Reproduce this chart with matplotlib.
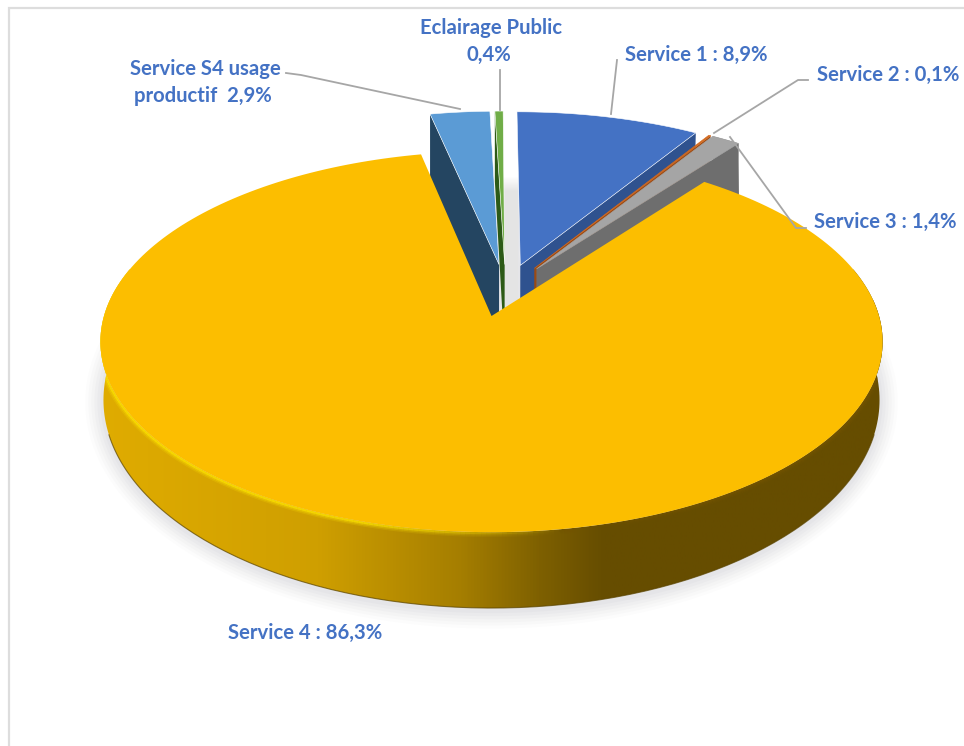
import numpy as np
import matplotlib
matplotlib.use('Agg')
import matplotlib.pyplot as plt
from matplotlib.collections import LineCollection
from matplotlib.colors import LinearSegmentedColormap
from matplotlib.patches import Polygon

# values, clockwise from 12 o'clock
services = ['Service 1', 'Service 2', 'Service 3', 'Service 4', 'Service S4 usage productif', 'Eclairage Public']
shares = [8.9, 0.1, 1.4, 86.3, 2.9, 0.4]
top_colors = ['#4472C4', '#D2691E', '#A5A5A5', '#FCBE00', '#5B9BD5', '#70AD47']
wall_colors = ['#2F528F', '#9C4A12', '#6E6E6E', '#A07800', '#244561', '#2C5A17']
labels = ['Service 1 : 8,9%', 'Service 2 : 0,1%', 'Service 3 : 1,4%', 'Service 4 : 86,3%',
          'Service S4 usage\nproductif  2,9%', 'Eclairage Public\n0,4%']

W, H = 964, 746
BLUE = '#4472C4'
LEADER = '#A6A6A6'
EXPLODE = 0.145
RADIUS = 1.0


# perspective of the top face and of the bottom face
def top_xy(u, v):
    s = 1 + 0.135 * v
    return 491.5 + 387.5 * u / s, 316 - 187 * v / s


def bottom_xy(u, v, extra=0):
    s = 1 + 0.125 * v
    return 491.5 + 385 * u / s, 374 + extra - 204.8 * v / s


def slice_uv(a0, a1, radius=RADIUS, n=60, nudge=0.0):
    mid = np.radians((a0 + a1) / 2)
    yellow_mid = np.radians(yellow_angle)
    cu = EXPLODE * (np.sin(mid) - np.sin(yellow_mid)) + nudge
    cv = EXPLODE * (np.cos(mid) - np.cos(yellow_mid))
    t = np.radians(np.linspace(a0, a1, n))
    return cu, cv, cu + radius * np.sin(t), cv + radius * np.cos(t)


ends = np.cumsum(shares) / np.sum(shares) * 360
starts = np.concatenate([[0], ends[:-1]])
yellow_angle = (starts[3] + ends[3]) / 2

fig = plt.figure(figsize=(W / 100, H / 100), dpi=100)
ax = fig.add_axes([0, 0, 1, 1])
ax.set_xlim(0, W)
ax.set_ylim(H, 0)
ax.axis('off')

# frame of the screenshot
ax.plot([9, 9, W], [H, 7.5, 7.5], color='#DDDDDD', lw=1.6, solid_joinstyle='miter', zorder=1)

# soft shadow round the bottom of the pie
_, _, ou, ov = slice_uv(starts[3], ends[3], n=200)
sx, sy = bottom_xy(ou, ov)
for grow, alpha in zip([18, 15, 12, 9, 6, 3], [0.06, 0.08, 0.09, 0.11, 0.13, 0.15]):
    px = 491.5 + (sx - 491.5) * (1 + grow / 385)
    py = 398 + (sy - 398) * (1 + grow / 205) + 2
    ax.fill(px, py, color='#CCCCD2', alpha=alpha, lw=0, zorder=2)

# grey shadow seen in the gap between the slices
gap = np.r_[np.linspace(0, 1, 16), np.ones(118)].reshape(-1, 1)
gap_cmap = LinearSegmentedColormap.from_list('gap', ['#FFFFFF', '#E4E4E4'])
ax.imshow(gap, extent=(503, 518, 310, 176), cmap=gap_cmap, vmin=0, vmax=1, aspect='auto', zorder=3)

# walls and top faces of the small slices
z = 4
for i in [4, 5, 0, 1, 2]:
    cu, cv, u, v = slice_uv(starts[i], ends[i], nudge=0.005)
    ax_t, ay_t = top_xy(cu, cv)
    ax_b, ay_b = bottom_xy(cu, cv, extra=34)
    tx, ty = top_xy(u, v)
    bx, by = bottom_xy(u, v, extra=34)
    # cut face that looks to the viewer
    if i in (4, 5):
        face = [(ax_t, ay_t), (tx[0], ty[0]), (tx[0], by[0]), (ax_b, ay_b)]
    else:
        face = [(ax_t, ay_t), (tx[-1], ty[-1]), (tx[-1] - 2, by[-1]), (ax_b, ay_b)]
    ax.add_patch(Polygon(face, closed=True, fc=wall_colors[i], ec='none', zorder=z))
    if i == 2:
        ax.fill(np.r_[tx, bx[::-1]], np.r_[ty, by[::-1]], color=wall_colors[i], lw=0, zorder=z)
    ax.fill(np.r_[ax_t, tx], np.r_[ay_t, ty], fc=top_colors[i],
            ec='#FFFFFF' if i in (0, 4, 5) else top_colors[i], lw=0.4, zorder=z + 1)
    z += 2

# big slice: rim with its gradient, then the top face
a0, a1 = starts[3], ends[3]
t = np.radians(np.linspace(75, 285, 200))
tx, ty = top_xy(np.sin(t), np.cos(t))
bx, by = bottom_xy(np.sin(t), np.cos(t))
rim = Polygon(np.c_[np.r_[tx, bx[::-1]], np.r_[ty, by[::-1]]], closed=True, fc='none', ec='none', zorder=20)
ax.add_patch(rim)
rim_cmap = LinearSegmentedColormap.from_list(
    'rim', [(0, '#E0AC00'), (0.28, '#CF9F00'), (0.46, '#A57E00'), (0.56, '#7E6000'), (0.64, '#664D00'), (1, '#664D00')])
grad = np.linspace(0, 1, 512).reshape(1, -1)
img = ax.imshow(grad, extent=(95, 890, 620, 190), cmap=rim_cmap, aspect='auto', zorder=20)
img.set_clip_path(rim)

# dark line under the rim
ax.plot(bx[30:170], by[30:170], color='#5A4400', lw=0.8, alpha=0.7, zorder=21)

_, _, u, v = slice_uv(a0, a1, n=240)
tx, ty = top_xy(u, v)
apex_x, apex_y = top_xy(0.0, 0.0)

# bevel on the edge of the top face, bright on the left, dark on the right
t = np.radians(np.linspace(85, 285, 300))
ex, ey = top_xy(np.sin(t), np.cos(t))
pts = np.c_[ex, ey]
segs = np.stack([pts[:-1], pts[1:]], axis=1)
mids = (pts[:-1, 0] + pts[1:, 0]) / 2
for width, fade in [(7, 0.18), (5, 0.3), (3, 0.6)]:
    cols = []
    for mx in mids:
        if mx < 560:
            cols.append((1.0, 0.90, 0.0, fade * min(1.0, (560 - mx) / 200)))
        else:
            cols.append((0.45, 0.33, 0.0, fade * min(1.0, (mx - 560) / 150)))
    bevel = LineCollection(segs, colors=cols, linewidths=width, zorder=21)
    ax.add_collection(bevel)
    bevel.set_clip_path(rim)

ax.fill(np.r_[apex_x, tx], np.r_[apex_y, ty], color=top_colors[3], lw=0, zorder=22)

# leader lines
leaders = [
    ([286, 301, 460], [73, 75, 109]),
    ([500, 500], [70, 110]),
    ([617, 611], [60, 114]),
    ([808, 798, 714], [80, 80, 133]),
    ([730, 796, 806], [137, 228, 228]),
]
for lx, ly in leaders:
    ax.plot(lx, ly, color=LEADER, lw=1.3, zorder=30)

# labels
font = dict(family='Lato', fontweight='bold', color=BLUE, fontsize=14.6, zorder=31, ha='center', va='center')
ax.text(491, 28, 'Eclairage Public', **font)
ax.text(489, 55, '0,4%', **font)
ax.text(696, 55, labels[0], **font)
ax.text(888, 75, labels[1], **font)
ax.text(885, 222, labels[2], **font)
ax.text(205, 69, 'Service S4 usage', **font)
ax.text(203, 96, 'productif  2,9%', **font)
ax.text(305, 633, labels[3], **font)

fig.savefig('out.png', dpi=100, facecolor='white')
